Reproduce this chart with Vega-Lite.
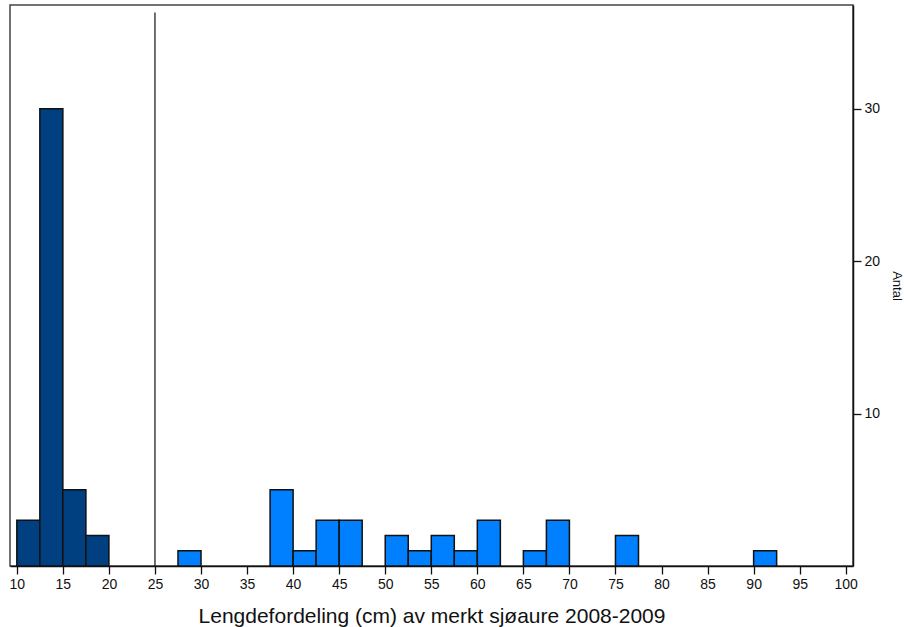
{
  "$schema": "https://vega.github.io/schema/vega-lite/v6.json",
  "width": 843,
  "height": 561,
  "autosize": {"type": "none"},
  "padding": {"left": 10, "top": 5, "right": 51, "bottom": 61},
  "background": "white",
  "config": {
    "font": "Liberation Sans",
    "view": {"stroke": "#444444", "strokeWidth": 1.5}
  },
  "layer": [
    {
      "data": {
        "values": [
          {"start": 10, "end": 12.5, "count": 3, "group": "small"},
          {"start": 12.5, "end": 15, "count": 30, "group": "small"},
          {"start": 15, "end": 17.5, "count": 5, "group": "small"},
          {"start": 17.5, "end": 20, "count": 2, "group": "small"},
          {"start": 27.5, "end": 30, "count": 1, "group": "large"},
          {"start": 37.5, "end": 40, "count": 5, "group": "large"},
          {"start": 40, "end": 42.5, "count": 1, "group": "large"},
          {"start": 42.5, "end": 45, "count": 3, "group": "large"},
          {"start": 45, "end": 47.5, "count": 3, "group": "large"},
          {"start": 50, "end": 52.5, "count": 2, "group": "large"},
          {"start": 52.5, "end": 55, "count": 1, "group": "large"},
          {"start": 55, "end": 57.5, "count": 2, "group": "large"},
          {"start": 57.5, "end": 60, "count": 1, "group": "large"},
          {"start": 60, "end": 62.5, "count": 3, "group": "large"},
          {"start": 65, "end": 67.5, "count": 1, "group": "large"},
          {"start": 67.5, "end": 70, "count": 3, "group": "large"},
          {"start": 75, "end": 77.5, "count": 2, "group": "large"},
          {"start": 90, "end": 92.5, "count": 1, "group": "large"}
        ]
      },
      "mark": {"type": "rect", "stroke": "#111111", "strokeWidth": 1.5},
      "encoding": {
        "x": {
          "field": "start",
          "type": "quantitative",
          "scale": {"domain": [9.26, 100.79], "nice": false, "zero": false},
          "axis": {
            "values": [10, 15, 20, 25, 30, 35, 40, 45, 50, 55, 60, 65, 70, 75, 80, 85, 90, 95, 100],
            "grid": false,
            "domainColor": "#111111",
            "domainWidth": 1.5,
            "tickColor": "#111111",
            "tickWidth": 1.3,
            "tickSize": 8,
            "labelFontSize": 14,
            "labelColor": "#111111",
            "labelPadding": 3,
            "labelFlush": false,
            "title": "Lengdefordeling (cm) av merkt sjøaure 2008-2009",
            "titleFontSize": 21,
            "titleFontWeight": "normal",
            "titleColor": "#111111",
            "titlePadding": 14
          }
        },
        "x2": {"field": "end"},
        "y": {
          "field": "count",
          "type": "quantitative",
          "scale": {"domain": [0, 36.8], "nice": false},
          "axis": {
            "orient": "right",
            "values": [10, 20, 30],
            "grid": false,
            "domainColor": "#111111",
            "domainWidth": 1.5,
            "tickColor": "#111111",
            "tickWidth": 1.3,
            "tickSize": 8,
            "labelFontSize": 14,
            "labelColor": "#111111",
            "labelPadding": 3,
            "title": "Antal",
            "titleFontSize": 13,
            "titleFontWeight": "normal",
            "titleColor": "#111111",
            "titlePadding": 10
          }
        },
        "y2": {"datum": 0},
        "color": {
          "field": "group",
          "type": "nominal",
          "scale": {"domain": ["small", "large"], "range": ["#003F80", "#007FFF"]},
          "legend": null
        }
      }
    },
    {
      "data": {"values": [{"x": 25, "top": 36.3}]},
      "mark": {"type": "rule", "color": "#111111", "strokeWidth": 1.2},
      "encoding": {
        "x": {"field": "x", "type": "quantitative"},
        "y": {"field": "top", "type": "quantitative"},
        "y2": {"datum": 0}
      }
    }
  ]
}
